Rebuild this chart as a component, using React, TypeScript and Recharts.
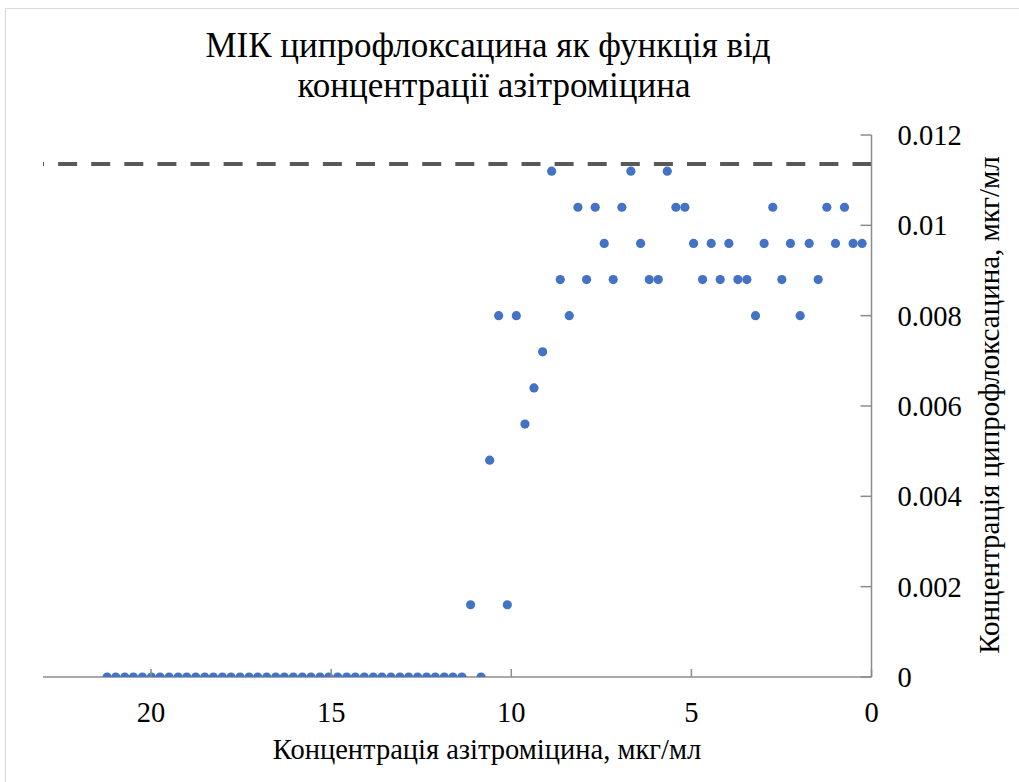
import React from "react";
import { ScatterChart, Scatter, XAxis, YAxis, ReferenceLine } from "recharts";

// Azithromycin concentration (µg/ml)
const xValues: number[] = [
  0.26, 0.51, 0.75, 1.0, 1.24, 1.48, 1.73, 1.98, 2.25, 2.49,
  2.74, 2.98, 3.22, 3.46, 3.71, 3.96, 4.2, 4.45, 4.69, 4.94,
  5.18, 5.43, 5.67, 5.92, 6.17, 6.41, 6.68, 6.93, 7.17, 7.42,
  7.67, 7.91, 8.15, 8.39, 8.64, 8.88, 9.13, 9.37, 9.62, 9.86,
  10.11, 10.35, 10.6, 10.84, 11.13,
  11.37, 11.62, 11.86, 12.11, 12.35, 12.6, 12.85, 13.09, 13.34, 13.59,
  13.83, 14.08, 14.33, 14.57, 14.82, 15.07, 15.31, 15.56, 15.8, 16.05,
  16.3, 16.54, 16.79, 17.04, 17.28, 17.53, 17.78, 18.02, 18.27, 18.51,
  18.76, 19.01, 19.25, 19.5, 19.75, 19.99, 20.24, 20.49, 20.73, 20.98,
  21.22,
];

// Ciprofloxacin MIC (µg/ml)
const yValues: number[] = [
  0.0096, 0.0096, 0.0104, 0.0096, 0.0104, 0.0088, 0.0096, 0.008, 0.0096, 0.0088,
  0.0104, 0.0096, 0.008, 0.0088, 0.0088, 0.0096, 0.0088, 0.0096, 0.0088, 0.0096,
  0.0104, 0.0104, 0.0112, 0.0088, 0.0088, 0.0096, 0.0112, 0.0104, 0.0088, 0.0096,
  0.0104, 0.0088, 0.0104, 0.008, 0.0088, 0.0112, 0.0072, 0.0064, 0.0056, 0.008,
  0.0016, 0.008, 0.0048, 0, 0.0016,
  0, 0, 0, 0, 0, 0, 0, 0, 0, 0,
  0, 0, 0, 0, 0, 0, 0, 0, 0, 0,
  0, 0, 0, 0, 0, 0, 0, 0, 0, 0,
  0, 0, 0, 0, 0, 0, 0, 0, 0, 0,
  0,
];

const xTicks = [0, 5, 10, 15, 20];
const yTicks = [0, 0.002, 0.004, 0.006, 0.008, 0.01, 0.012];
const thresholdLevel = 0.01136;

const titleLines = ["МІК ципрофлоксацина як функція від", "концентрації азітроміцина"];
const xTitle = "Концентрація азітроміцина, мкг/мл";
const yTitle = "Концентрація ципрофлоксацина, мкг/мл";

const data = xValues.map((x, i) => ({ x, y: yValues[i] }));

const FONT = "'Liberation Serif', 'Times New Roman', serif";
const AXIS_COLOR = "#8c8c8c";

const XTick = (props: any) => {
  const { x, y, payload } = props;
  return (
    <g>
      <line x1={x} x2={x} y1={y - 8} y2={y} stroke={AXIS_COLOR} strokeWidth={1.5} />
      <text x={x} y={y + 45} textAnchor="middle" fontFamily={FONT} fontSize={28.5} fill="#000">
        {payload.value}
      </text>
    </g>
  );
};

const YTick = (props: any) => {
  const { x, y, payload } = props;
  return (
    <g>
      <line x1={x - 11} x2={x} y1={y} y2={y} stroke={AXIS_COLOR} strokeWidth={1.5} />
      <text x={x + 26} y={y + 10} textAnchor="start" fontFamily={FONT} fontSize={28.5} fill="#000">
        {payload.value}
      </text>
    </g>
  );
};

const Dot = (props: any) => {
  const { cx, cy } = props;
  return <circle cx={cx} cy={cy} r={4.6} fill="#4472C4" />;
};

export default function App() {
  return (
    <div
      style={{
        position: "absolute",
        left: 0,
        top: 0,
        width: 1019,
        height: 782,
        overflow: "hidden",
        background: "#fff",
      }}
    >
      <div
        style={{
          position: "absolute",
          left: 5,
          top: 8,
          width: 1200,
          height: 900,
          borderTop: "1.5px solid #d9d9d9",
          borderLeft: "1.5px solid #d9d9d9",
        }}
      />
      <div style={{ position: "absolute", left: 0, top: 0 }}>
        <ScatterChart
          width={1019}
          height={782}
          margin={{ top: 135, left: 43, right: 87.5, bottom: 65 }}
        >
          <XAxis
            type="number"
            dataKey="x"
            domain={[0, 23]}
            reversed
            ticks={xTicks}
            interval={0}
            tickSize={0}
            tickMargin={0}
            tickLine={false}
            axisLine={{ stroke: AXIS_COLOR, strokeWidth: 1.5 }}
            tick={<XTick />}
            height={40}
            allowDataOverflow
          />
          <YAxis
            type="number"
            dataKey="y"
            orientation="right"
            domain={[0, 0.012]}
            ticks={yTicks}
            interval={0}
            tickSize={0}
            tickMargin={0}
            tickLine={false}
            axisLine={{ stroke: AXIS_COLOR, strokeWidth: 1.5 }}
            tick={<YTick />}
            width={60}
            allowDataOverflow
          />
          <ReferenceLine
            y={thresholdLevel}
            stroke="#595959"
            strokeWidth={4}
            strokeDasharray="19 14.1"
            ifOverflow="extendDomain"
          />
          <Scatter data={data} fill="#4472C4" shape={<Dot />} isAnimationActive={false} />
        </ScatterChart>
      </div>
      <svg
        width={1019}
        height={782}
        style={{ position: "absolute", left: 0, top: 0, pointerEvents: "none" }}
      >
        <text x={488} y={57} textAnchor="middle" fontFamily={FONT} fontSize={35} fill="#000">
          {titleLines[0]}
        </text>
        <text x={494} y={97} textAnchor="middle" fontFamily={FONT} fontSize={35} fill="#000">
          {titleLines[1]}
        </text>
        <text x={487} y={759} textAnchor="middle" fontFamily={FONT} fontSize={28.5} fill="#000">
          {xTitle}
        </text>
        <text
          x={0}
          y={0}
          transform="translate(999, 405) rotate(-90)"
          textAnchor="middle"
          fontFamily={FONT}
          fontSize={29}
          fill="#000"
        >
          {yTitle}
        </text>
      </svg>
    </div>
  );
}
